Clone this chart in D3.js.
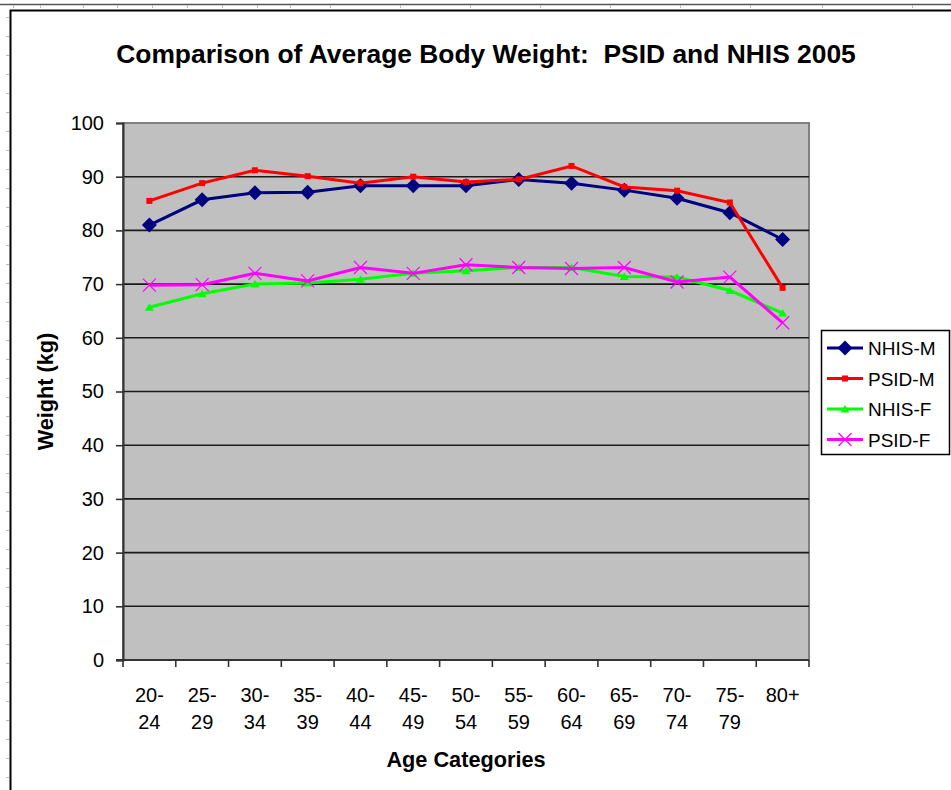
<!DOCTYPE html>
<html>
<head>
<meta charset="utf-8">
<script src="https://cdn.jsdelivr.net/npm/d3@7"></script>
<style>
  body { margin: 0; background: #fff; }
  svg { display: block; font-family: "Liberation Sans", Arial, sans-serif; }
</style>
</head>
<body>
<div id="chart"></div>
<script>
// age groups on the x axis, each label split on two lines
const categories = ["20-24", "25-29", "30-34", "35-39", "40-44", "45-49", "50-54",
                    "55-59", "60-64", "65-69", "70-74", "75-79", "80+"];
const catLabels = [["20-", "24"], ["25-", "29"], ["30-", "34"], ["35-", "39"], ["40-", "44"],
                   ["45-", "49"], ["50-", "54"], ["55-", "59"], ["60-", "64"], ["65-", "69"],
                   ["70-", "74"], ["75-", "79"], ["80+"]];

// weights in kg
const nhisM = [81.0, 85.7, 87.0, 87.1, 88.3, 88.3, 88.3, 89.5, 88.8, 87.5, 86.0, 83.3, 78.3];
const psidM = [85.5, 88.8, 91.2, 90.1, 88.8, 90.0, 89.0, 89.5, 92.0, 88.1, 87.4, 85.2, 69.3];
const nhisF = [65.7, 68.2, 70.0, 70.2, 70.9, 72.0, 72.5, 73.1, 73.1, 71.4, 71.3, 68.8, 64.6];
const psidF = [69.8, 69.9, 72.0, 70.6, 73.1, 72.0, 73.6, 73.1, 72.9, 73.1, 70.4, 71.3, 62.8];

const yTicks = [0, 10, 20, 30, 40, 50, 60, 70, 80, 90, 100];

const series = [
  { name: "NHIS-M", values: nhisM, color: "#000080", marker: "diamond" },
  { name: "PSID-M", values: psidM, color: "#ff0000", marker: "square" },
  { name: "NHIS-F", values: nhisF, color: "#00ff00", marker: "triangle" },
  { name: "PSID-F", values: psidF, color: "#ff00ff", marker: "cross" }
];

const width = 951, height = 790;
const plot = { left: 123, right: 809, top: 123, bottom: 660 };

const svg = d3.select("#chart").append("svg")
    .attr("width", width)
    .attr("height", height);

// spreadsheet chrome around the chart object
svg.append("line").attr("x1", 0).attr("x2", width).attr("y1", 4.5).attr("y2", 4.5)
    .attr("stroke", "#555").attr("stroke-width", 1.5);
[13, 40, 83, 117, 152, 187, 222, 257, 290, 330, 400, 470, 540, 610, 680, 750, 822, 912].forEach(x => {
  svg.append("line").attr("x1", x + 0.5).attr("x2", x + 0.5).attr("y1", 5).attr("y2", 8)
      .attr("stroke", "#bbb");
});
d3.range(17, height, 19).forEach(y => {
  svg.append("line").attr("x1", 6).attr("x2", 9).attr("y1", y + 0.5).attr("y2", y + 0.5)
      .attr("stroke", "#bbb");
});
svg.append("path")
    .attr("d", `M10.5,${height} V10.5 H${width}`)
    .attr("fill", "none").attr("stroke", "#000").attr("stroke-width", 2);

const x = d3.scaleBand().domain(categories).range([plot.left, plot.right]);
const y = d3.scaleLinear().domain([0, 100]).range([plot.bottom, plot.top]);

// plot area
svg.append("rect")
    .attr("x", plot.left).attr("y", plot.top)
    .attr("width", plot.right - plot.left).attr("height", plot.bottom - plot.top)
    .attr("fill", "#c0c0c0").attr("stroke", "#808080").attr("stroke-width", 2);

svg.append("g")
  .selectAll("line")
  .data(yTicks.filter(d => d > 0 && d < 100))
  .join("line")
    .attr("x1", plot.left).attr("x2", plot.right)
    .attr("y1", d => y(d)).attr("y2", d => y(d))
    .attr("stroke", "#1a1a1a").attr("stroke-width", 1.6);

// y axis
const yAxis = svg.append("g")
    .attr("transform", `translate(${plot.left},0)`)
    .call(d3.axisLeft(y).tickValues(yTicks).tickSize(7).tickPadding(12));
yAxis.select(".domain").attr("stroke", "#333").attr("stroke-width", 2);
yAxis.selectAll(".tick line").attr("stroke", "#333").attr("stroke-width", 1.6);
yAxis.selectAll("text").attr("font-size", 20).attr("fill", "#000")
    .attr("font-family", "Liberation Sans, Arial, sans-serif");

// x axis: ticks sit on the band boundaries
const xAxis = svg.append("g").attr("transform", `translate(0,${plot.bottom})`);
xAxis.append("line")
    .attr("x1", plot.left - 7).attr("x2", plot.right)
    .attr("stroke", "#333").attr("stroke-width", 2);
xAxis.selectAll("line.tk")
  .data(categories)
  .join("line").attr("class", "tk")
    .attr("x1", d => x(d)).attr("x2", d => x(d))
    .attr("y1", 0).attr("y2", 7)
    .attr("stroke", "#333").attr("stroke-width", 1.6);
xAxis.append("line")
    .attr("x1", plot.right).attr("x2", plot.right).attr("y1", 0).attr("y2", 7)
    .attr("stroke", "#333").attr("stroke-width", 1.6);
const xl = xAxis.selectAll("text")
  .data(categories)
  .join("text")
    .attr("x", d => x(d) + x.bandwidth() / 2)
    .attr("y", 42)
    .attr("text-anchor", "middle")
    .attr("font-size", 20);
xl.selectAll("tspan")
  .data((d, i) => catLabels[i])
  .join("tspan")
    .attr("x", function () { return d3.select(this.parentNode).attr("x"); })
    .attr("dy", (d, i) => i === 0 ? 0 : 27)
    .text(d => d);

// series lines and markers
const line = d3.line()
    .x((d, i) => x(categories[i]) + x.bandwidth() / 2)
    .y(d => y(d));

function drawMarker(g, type, color) {
  if (type === "diamond") {
    g.append("path").attr("d", "M0,-7.5L7.5,0L0,7.5L-7.5,0Z").attr("fill", color);
  } else if (type === "square") {
    g.append("rect").attr("x", -3).attr("y", -3).attr("width", 6).attr("height", 6).attr("fill", color);
  } else if (type === "triangle") {
    g.append("path").attr("d", "M0,-4L4.5,3.5L-4.5,3.5Z").attr("fill", color);
  } else {
    g.append("path").attr("d", "M-6.5,-6.5L6.5,6.5M-6.5,6.5L6.5,-6.5")
        .attr("stroke", color).attr("stroke-width", 1.2);
  }
}

series.forEach(s => {
  svg.append("path")
      .datum(s.values)
      .attr("d", line)
      .attr("fill", "none")
      .attr("stroke", s.color)
      .attr("stroke-width", 3);
  s.values.forEach((v, i) => {
    const g = svg.append("g")
        .attr("transform", `translate(${x(categories[i]) + x.bandwidth() / 2},${y(v)})`);
    drawMarker(g, s.marker, s.color);
  });
});

// titles
svg.append("text")
    .attr("x", 486).attr("y", 63)
    .attr("text-anchor", "middle")
    .attr("font-size", 26.4).attr("font-weight", "bold")
    .attr("xml:space", "preserve")
    .text("Comparison of Average Body Weight:  PSID and NHIS 2005");

svg.append("text")
    .attr("x", 466).attr("y", 767)
    .attr("text-anchor", "middle")
    .attr("font-size", 21.7).attr("font-weight", "bold")
    .text("Age Categories");

svg.append("text")
    .attr("transform", `translate(53,${(plot.top + plot.bottom) / 2}) rotate(-90)`)
    .attr("text-anchor", "middle")
    .attr("font-size", 21.7).attr("font-weight", "bold")
    .text("Weight (kg)");

// legend
const legend = svg.append("g").attr("transform", "translate(821,330)");
legend.append("rect")
    .attr("x", 0.5).attr("y", 0.5).attr("width", 128).attr("height", 124)
    .attr("fill", "#fff").attr("stroke", "#000").attr("stroke-width", 1.5);
const item = legend.selectAll("g.item")
  .data(series)
  .join("g").attr("class", "item")
    .attr("transform", (d, i) => `translate(0,${18 + i * 30.5})`);
item.append("line")
    .attr("x1", 6).attr("x2", 42)
    .attr("stroke", d => d.color).attr("stroke-width", 3);
item.append("g").attr("transform", "translate(24,0)")
    .each(function (d) { drawMarker(d3.select(this), d.marker, d.color); });
item.append("text")
    .attr("x", 47).attr("y", 7)
    .attr("font-size", 19)
    .text(d => d.name);
</script>
</body>
</html>
